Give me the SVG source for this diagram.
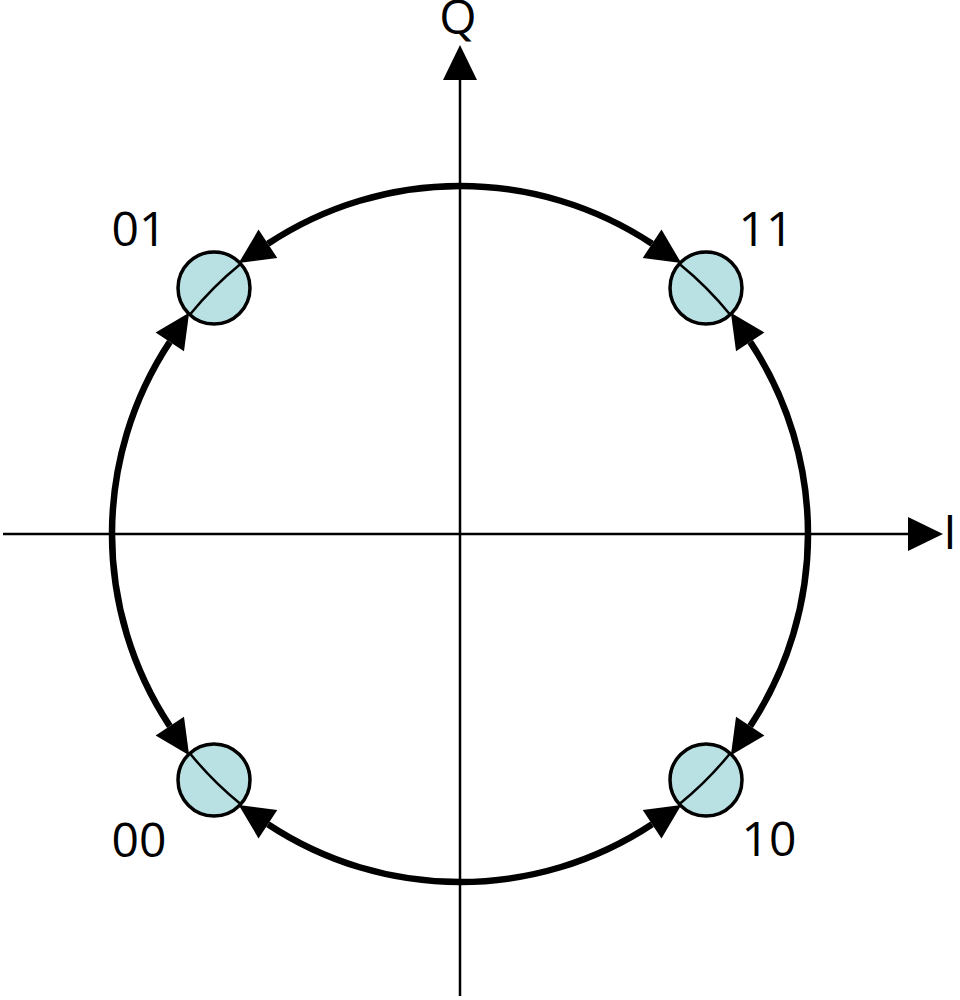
<svg xmlns="http://www.w3.org/2000/svg" width="960" height="1000" viewBox="0 0 960 1000">
<style>
.axis{stroke:#000;stroke-width:2.5;fill:none}
.arc{stroke:#000;stroke-width:6.5;fill:none}
.thin{stroke:#000;stroke-width:2.5;fill:none}
.pt{fill:#b9e0e3;stroke:#000;stroke-width:3.5}
.lbl{font-family:"Open Sans","Noto Sans",sans-serif;font-size:48px;fill:#000;text-anchor:middle}
</style>
<defs>
<marker id="ah" markerUnits="userSpaceOnUse" orient="auto" refX="0" refY="0" markerWidth="40" markerHeight="40" overflow="visible">
<path d="M0,-17 L35,0 L0,17 z" fill="#000"/>
</marker>
</defs>
<g id="axes">
<line class="axis" x1="460" y1="996" x2="460" y2="80" marker-end="url(#ah)"/>
<line class="axis" x1="3" y1="534" x2="908" y2="534" marker-end="url(#ah)"/>
<text class="lbl" x="458" y="34" font-size="42">Q</text>
<text class="lbl" x="950" y="549" font-size="44">I</text>
</g>
<g id="connectors">
<path class="arc" d="M460,186 A348,348 0 0 0 267.9,243.8" marker-end="url(#ah)"/>
<path class="arc" d="M460,186 A348,348 0 0 1 652.1,243.8" marker-end="url(#ah)"/>
<path class="arc" d="M808,534 A348,348 0 0 0 750.2,341.9" marker-end="url(#ah)"/>
<path class="arc" d="M808,534 A348,348 0 0 1 750.2,726.1" marker-end="url(#ah)"/>
<path class="arc" d="M112,534 A348,348 0 0 1 169.8,341.9" marker-end="url(#ah)"/>
<path class="arc" d="M112,534 A348,348 0 0 0 169.8,726.1" marker-end="url(#ah)"/>
<path class="arc" d="M460,882 A348,348 0 0 1 267.9,824.2" marker-end="url(#ah)"/>
<path class="arc" d="M460,882 A348,348 0 0 0 652.1,824.2" marker-end="url(#ah)"/>
</g>
<g id="p01">
<circle class="pt" cx="214" cy="288" r="36"/>
<path class="thin" d="M240.5,264 A348,348 0 0 0 190,314.5"/>
<text class="lbl" x="139" y="246">01</text>
</g>
<g id="p11">
<circle class="pt" cx="706" cy="288" r="36"/>
<path class="thin" d="M679.5,264 A348,348 0 0 1 730,314.5"/>
<text class="lbl" x="766" y="246">11</text>
</g>
<g id="p00">
<circle class="pt" cx="214" cy="780" r="36"/>
<path class="thin" d="M190,753.5 A348,348 0 0 0 240.5,804"/>
<text class="lbl" x="139" y="857">00</text>
</g>
<g id="p10">
<circle class="pt" cx="706" cy="780" r="36"/>
<path class="thin" d="M679.5,804 A348,348 0 0 0 730,753.5"/>
<text class="lbl" x="769" y="856">10</text>
</g>
</svg>
